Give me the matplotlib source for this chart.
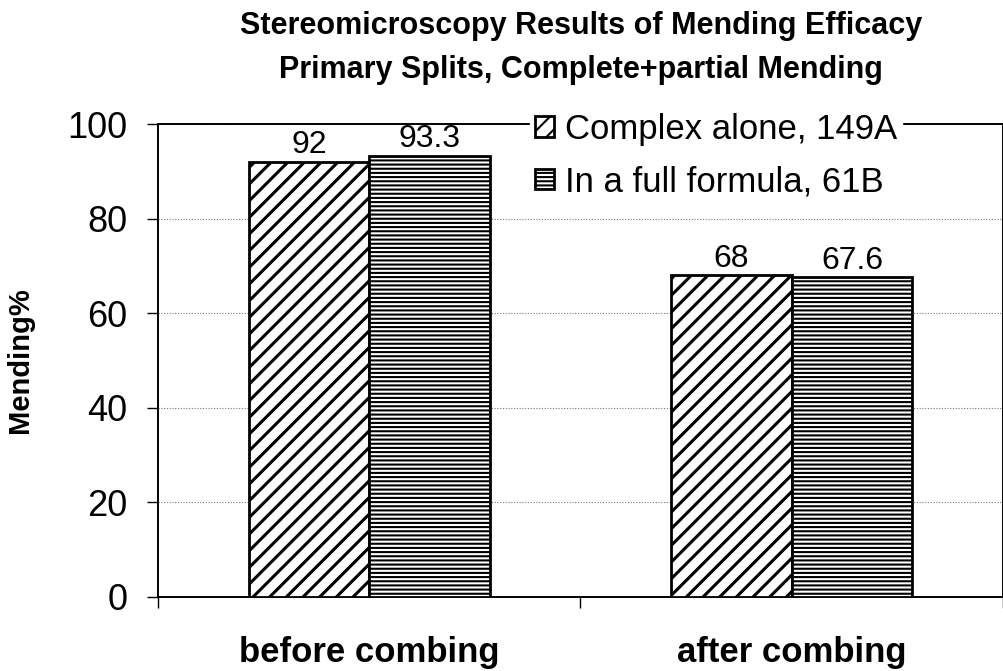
import matplotlib
matplotlib.use("Agg")
import matplotlib.pyplot as plt
import numpy as np

categories = ["before combing", "after combing"]
series_names = ["Complex alone, 149A", "In a full formula, 61B"]
complex_alone = [92, 68]
full_formula = [93.3, 67.6]
value_labels_a = ["92", "68"]
value_labels_b = ["93.3", "67.6"]
yticks = [0, 20, 40, 60, 80, 100]
title = "Stereomicroscopy Results of Mending Efficacy\nPrimary Splits, Complete+partial Mending"

plt.rcParams['font.family'] = ['Liberation Sans', 'DejaVu Sans']
plt.rcParams['hatch.color'] = 'black'

W, H = 1004, 671
fig = plt.figure(figsize=(W / 100, H / 100), dpi=100)
ax = fig.add_axes([158 / W, 74 / H, (1003 - 158) / W, 473 / H])

x = np.arange(len(categories))
bw = 0.2855
plt.rcParams['hatch.linewidth'] = 2.2
bars_a = ax.bar(x - bw / 2, complex_alone, width=bw, facecolor='white',
                edgecolor='black', linewidth=2, hatch='//', label=series_names[0], zorder=3)
plt.rcParams['hatch.linewidth'] = 1.5
bars_b = ax.bar(x + bw / 2, full_formula, width=bw, facecolor='white',
                edgecolor='black', linewidth=2, hatch='----', label=series_names[1], zorder=3)

for rect, lab in zip(bars_a, value_labels_a):
    ax.annotate(lab, (rect.get_x() + rect.get_width() / 2, rect.get_height()),
                xytext=(0, 1), textcoords='offset points', ha='center', va='bottom',
                fontsize=23)
for rect, lab in zip(bars_b, value_labels_b):
    ax.annotate(lab, (rect.get_x() + rect.get_width() / 2, rect.get_height()),
                xytext=(0, 1), textcoords='offset points', ha='center', va='bottom',
                fontsize=23)

ax.set_xlim(-0.5, 1.5)
ax.set_ylim(0, 100)
ax.set_yticks(yticks)
ax.set_yticklabels([str(v) for v in yticks], fontsize=26)
ax.tick_params(axis='y', direction='out', length=8, width=1, pad=14)

ax.set_xticks(x)
ax.set_xticklabels(categories, fontsize=25, fontweight='bold')
ax.set_xticks([-0.5, 0.5, 1.5], minor=True)
ax.tick_params(axis='x', which='major', length=0, pad=28)
ax.tick_params(axis='x', which='minor', direction='out', length=8, width=1)

ax.yaxis.grid(True, linestyle=(0, (1, 1.5)), color='#777777', linewidth=0.8, zorder=0)
ax.set_axisbelow(True)

for s in ax.spines.values():
    s.set_linewidth(1.4)
    s.set_color('black')

ax.set_ylabel("Mending%", fontsize=21, fontweight='bold', labelpad=24)

fig.text(581 / W, 1 - 11 / H, title, ha='center', va='top', fontsize=22,
         fontweight='bold', linespacing=1.6)

leg = ax.legend(loc='upper left', bbox_to_anchor=(530 / W, 1 - 108 / H),
                bbox_transform=fig.transFigure, frameon=True, fancybox=False,
                fontsize=25, handlelength=0.55, handleheight=0.55, handletextpad=0.3,
                labelspacing=0.55, borderpad=0.15, borderaxespad=0)
leg.get_frame().set_edgecolor('white')
leg.get_frame().set_facecolor('white')
leg.get_frame().set_alpha(1)
leg.set_zorder(5)

fig.savefig("out.png", dpi=100, facecolor='white')
